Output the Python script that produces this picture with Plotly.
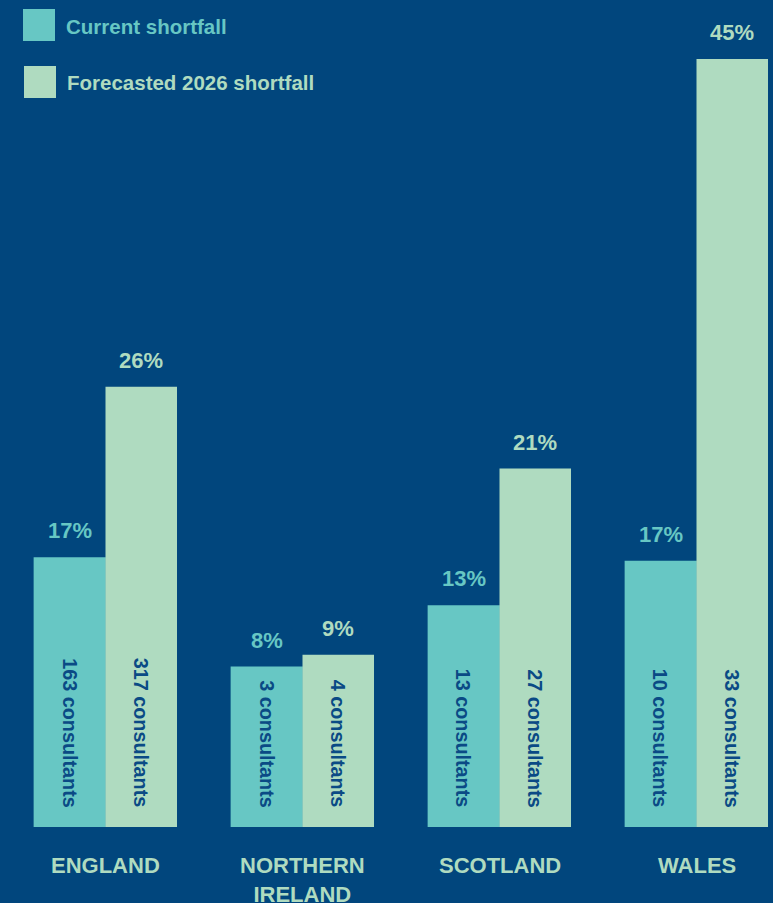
import plotly.graph_objects as go

# ---- data ----
countries = ["ENGLAND", "NORTHERN<br>IRELAND", "SCOTLAND", "WALES"]
current_pct_labels = ["17%", "8%", "13%", "17%"]
forecast_pct_labels = ["26%", "9%", "21%", "45%"]
# bar heights as drawn in the reference (percentage-point units)
current_heights = [15.8, 9.4, 13.0, 15.6]
forecast_heights = [25.8, 10.1, 21.0, 45.0]
current_consultants = ["163 consultants", "3 consultants", "13 consultants", "10 consultants"]
forecast_consultants = ["317 consultants", "4 consultants", "27 consultants", "33 consultants"]
series_names = ["Current shortfall", "Forecasted 2026 shortfall"]

# ---- style ----
BG = "#01467d"
C_CUR = "#67c7c4"
C_FC = "#afdbc0"
TXT_DARK = "#0a4a85"
FONT = "Liberation Sans"
W, H = 773, 903
MB = 76
PLOT_H = H - MB
BAR_W = 0.363

xs = list(range(len(countries)))

fig = go.Figure()
fig.add_trace(go.Bar(x=[x - BAR_W / 2 for x in xs], y=current_heights, width=BAR_W * 1.01,
                     marker=dict(color=C_CUR, line=dict(width=0)), name=series_names[0],
                     showlegend=False, hoverinfo="skip"))
fig.add_trace(go.Bar(x=[x + BAR_W / 2 for x in xs], y=forecast_heights, width=BAR_W,
                     marker=dict(color=C_FC, line=dict(width=0)), name=series_names[1],
                     showlegend=False, hoverinfo="skip"))

ann = []
for i, x in enumerate(xs):
    for off, h, lab, cons, col in [(-BAR_W / 2, current_heights[i], current_pct_labels[i], current_consultants[i], C_CUR),
                                   (BAR_W / 2, forecast_heights[i], forecast_pct_labels[i], forecast_consultants[i], C_FC)]:
        ann.append(dict(x=x + off, y=h, xref="x", yref="y", text="<b>%s</b>" % lab,
                        showarrow=False, yanchor="bottom", yshift=12,
                        font=dict(family=FONT, size=22, color=col)))
        ann.append(dict(x=x + off, y=0, xref="x", yref="y", text="<b>%s</b>" % cons,
                        showarrow=False, yanchor="bottom", yshift=17, textangle=90,
                        font=dict(family=FONT, size=19.8, color=TXT_DARK)))
    ann.append(dict(x=x, y=(PLOT_H - 851) / PLOT_H, xref="x", yref="paper",
                    text="<b>%s</b>" % countries[i], showarrow=False, yanchor="top",
                    font=dict(family=FONT, size=22, color=C_FC)))


def py(p):
    return (PLOT_H - p) / PLOT_H


def px(p):
    return p / W


shapes = []
legend_items = [(series_names[0], C_CUR, 23, 9), (series_names[1], C_FC, 24, 66)]
for name, col, lx, ly in legend_items:
    shapes.append(dict(type="rect", xref="paper", yref="paper", x0=px(lx), x1=px(lx + 32),
                       y0=py(ly + 32), y1=py(ly), fillcolor=col, line=dict(width=0)))
    ann.append(dict(x=px(lx + 41), y=py(ly + 17), xref="paper", yref="paper",
                    text="<b>%s</b>" % name, showarrow=False, xanchor="left", yanchor="middle",
                    font=dict(family=FONT, size=20.5, color=col)))

x_left = -105.5 / 197
x_right = (W - 105.5) / 197
y_top = PLOT_H / ((PLOT_H - 59) / 45.0)

fig.update_layout(
    width=W, height=H,
    margin=dict(l=0, r=0, t=0, b=MB),
    paper_bgcolor=BG, plot_bgcolor=BG,
    barmode="overlay",
    xaxis=dict(range=[x_left, x_right], visible=False, fixedrange=True),
    yaxis=dict(range=[0, y_top], visible=False, fixedrange=True),
    annotations=ann, shapes=shapes,
    showlegend=False,
)

fig.write_html("out.html", config={"displayModeBar": False},
               post_script="document.body.style.margin='0';document.body.style.background='%s';" % BG)
